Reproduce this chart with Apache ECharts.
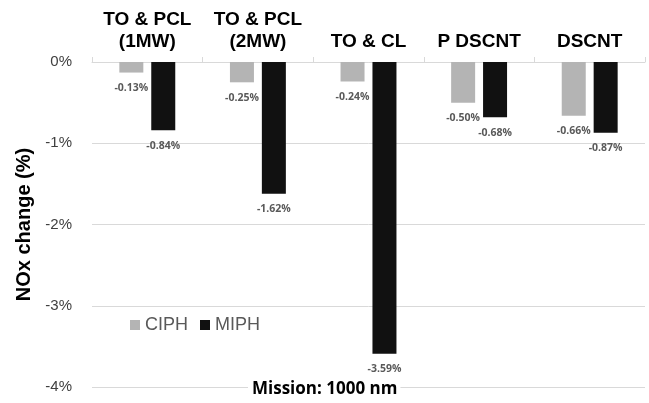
<!DOCTYPE html>
<html><head><meta charset="utf-8">
<script src="https://cdn.jsdelivr.net/npm/echarts@6/dist/echarts.min.js"></script>
<style>html,body{margin:0;padding:0;background:#fff}#c{width:649px;height:403px}</style>
</head><body><div id="c"></div>
<script>
var categories = ['TO & PCL\n(1MW)', 'TO & PCL\n(2MW)', 'TO & CL', 'P DSCNT', 'DSCNT'];
var ciph = [-0.13, -0.25, -0.24, -0.50, -0.66];
var miph = [-0.84, -1.62, -3.59, -0.68, -0.87];
var yTicks = [-4, -3, -2, -1, 0];

var chart = echarts.init(document.getElementById('c'));
var lbl = {
  show: true, position: 'bottom', distance: 10,
  formatter: function (p) { return p.value.toFixed(2) + '%'; },
  fontSize: 10.5, fontWeight: 'bold', color: '#595959', fontFamily: 'Open Sans'
};
chart.setOption({
  animation: false,
  grid: { left: 92, right: 4, top: 62, bottom: 16 },
  legend: {
    left: 125, top: 311, itemWidth: 10, itemHeight: 10, itemGap: 12, icon: 'rect',
    textStyle: { fontSize: 18, color: '#595959', fontFamily: 'Liberation Sans' },
    data: ['CIPH', 'MIPH']
  },
  xAxis: {
    type: 'category', position: 'top', data: categories,
    axisLine: { lineStyle: { color: '#d9d9d9' } },
    axisTick: { show: true, length: 5, lineStyle: { color: '#d9d9d9' } },
    axisLabel: { interval: 0, hideOverlap: false, fontSize: 19, fontWeight: 'bold', color: '#000', fontFamily: 'Liberation Sans', lineHeight: 22, margin: 9 }
  },
  yAxis: {
    type: 'value', min: yTicks[0], max: yTicks[yTicks.length - 1], interval: 1,
    axisLabel: { formatter: '{value}%', fontSize: 15, color: '#404040', fontFamily: 'Liberation Sans', margin: 20 },
    splitLine: { lineStyle: { color: '#d9d9d9' } },
    axisLine: { show: false }, axisTick: { show: false },
    name: 'NOx change (%)', nameLocation: 'middle', nameGap: 50,
    nameTextStyle: { fontSize: 20, fontWeight: 'bold', color: '#000', fontFamily: 'Liberation Sans' }
  },
  graphic: [{
    type: 'text', left: 248, top: 381, z: 100,
    style: { text: 'Mission: 1000 nm', font: 'bold 17px "Open Sans"', fill: '#000',
             backgroundColor: '#fff', padding: [0, 3, 0, 4] }
  }],
  series: [
    { name: 'CIPH', type: 'bar', data: ciph, barWidth: 24, barGap: '33%',
      itemStyle: { color: '#b4b4b4' }, label: lbl },
    { name: 'MIPH', type: 'bar', data: miph, barWidth: 24, barGap: '33%',
      itemStyle: { color: '#111111' }, label: lbl }
  ]
});
</script></body></html>
